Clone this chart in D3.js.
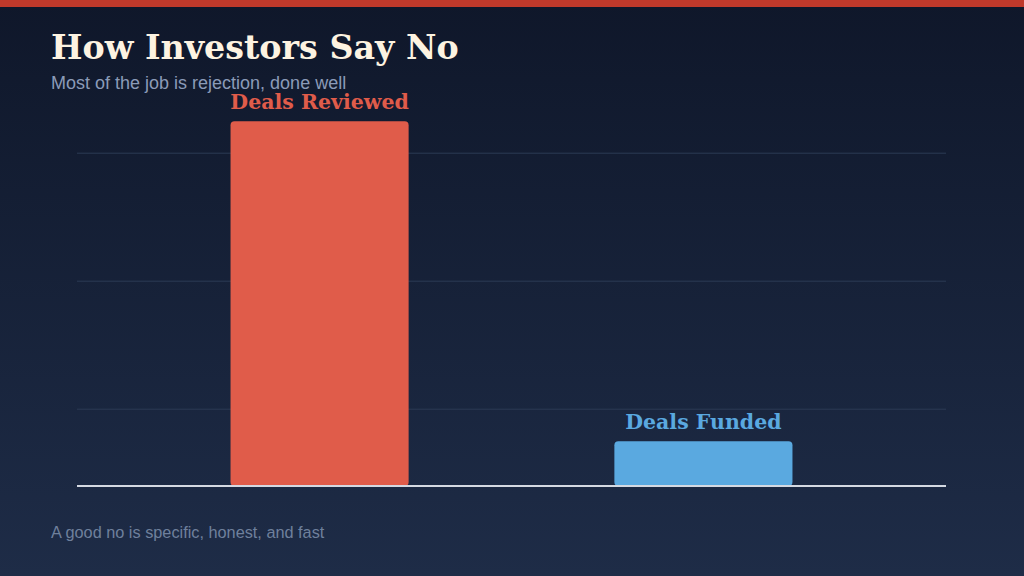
<!DOCTYPE html>
<html>
<head>
<meta charset="utf-8">
<script src="https://cdn.jsdelivr.net/npm/d3@7"></script>
<style>
  html, body { margin: 0; padding: 0; }
  body { width: 1024px; height: 576px; overflow: hidden; }
</style>
</head>
<body>
<div id="chart"></div>
<script>
// ─── data ────────────────────────────────────────────────────────────────
const categories = ["Deals Reviewed", "Deals Funded"];
const values = [142.5, 17.5];
const barColors = ["#e05c4a", "#5aa9e0"];
const gridTicks = [30, 80, 130];

const W = 1024, H = 576;
const margin = { top: 0, left: 77, right: 78 };
const baseY = 486;
const pxPerUnit = 2.56;

const svg = d3.select("#chart").append("svg")
    .attr("width", W).attr("height", H);

const defs = svg.append("defs");
const grad = defs.append("linearGradient")
    .attr("id", "bg").attr("x1", 0).attr("y1", 0).attr("x2", 0).attr("y2", 1);
grad.append("stop").attr("offset", "0%").attr("stop-color", "#0f172a");
grad.append("stop").attr("offset", "100%").attr("stop-color", "#1e2c47");

svg.append("rect").attr("width", W).attr("height", H).attr("fill", "url(#bg)");
svg.append("rect").attr("width", W).attr("height", 7).attr("fill", "#c0392b");

// titles
svg.append("text")
    .attr("x", 51).attr("y", 59)
    .attr("font-family", "'DejaVu Serif', serif")
    .attr("font-weight", "bold").attr("font-size", 33.3)
    .attr("fill", "#fdf3e1")
    .text("How Investors Say No");

svg.append("text")
    .attr("x", 51).attr("y", 89)
    .attr("font-family", "'Liberation Sans', Arial, sans-serif")
    .attr("font-size", 18).attr("fill", "#8b9bb8")
    .text("Most of the job is rejection, done well");

svg.append("text")
    .attr("x", 51).attr("y", 538)
    .attr("font-family", "'Liberation Sans', Arial, sans-serif")
    .attr("font-size", 16.3).attr("fill", "#6f809c")
    .text("A good no is specific, honest, and fast");

// scales
const x = d3.scaleBand()
    .domain(categories)
    .range([margin.left, W - margin.right])
    .paddingInner(0.536)
    .paddingOuter(0.4);

const y = d3.scaleLinear()
    .domain([0, 150])
    .range([baseY, baseY - 150 * pxPerUnit]);

const g = svg.append("g");

// gridlines
g.selectAll(".grid")
    .data(gridTicks)
    .join("line")
    .attr("class", "grid")
    .attr("x1", margin.left).attr("x2", W - margin.right)
    .attr("y1", d => y(d)).attr("y2", d => y(d))
    .attr("stroke", "#2c3a55").attr("stroke-width", 1);

// bars
g.selectAll(".bar")
    .data(categories)
    .join("rect")
    .attr("class", "bar")
    .attr("x", d => x(d))
    .attr("width", x.bandwidth())
    .attr("y", (d, i) => y(values[i]))
    .attr("height", (d, i) => y(0) - y(values[i]))
    .attr("rx", 4)
    .attr("fill", (d, i) => barColors[i]);

// baseline
g.append("line")
    .attr("x1", margin.left).attr("x2", W - margin.right)
    .attr("y1", baseY).attr("y2", baseY)
    .attr("stroke", "#d4d9e2").attr("stroke-width", 2);

// labels
g.selectAll(".lbl")
    .data(categories)
    .join("text")
    .attr("class", "lbl")
    .attr("x", d => x(d) + x.bandwidth() / 2)
    .attr("y", (d, i) => y(values[i]) - 12.5)
    .attr("text-anchor", "middle")
    .attr("font-family", "'DejaVu Serif', serif")
    .attr("font-weight", "bold").attr("font-size", 20.5)
    .attr("fill", (d, i) => barColors[i])
    .text(d => d);
</script>
</body>
</html>
